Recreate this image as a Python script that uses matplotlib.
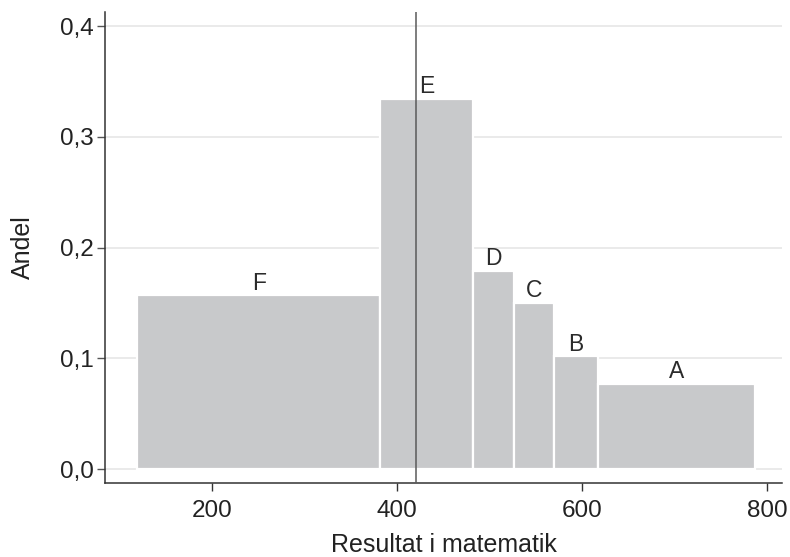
import matplotlib
matplotlib.use("Agg")
import matplotlib.pyplot as plt
from matplotlib.ticker import FuncFormatter

# Score intervals for each grade and the share of students in each
grades = ["F", "E", "D", "C", "B", "A"]
bin_edges = [119, 381.5, 482, 526, 570, 617, 787]
shares = [0.157, 0.334, 0.179, 0.150, 0.102, 0.077]
mean_score = 420

x_ticks = [200, 400, 600, 800]
y_ticks = [0.0, 0.1, 0.2, 0.3, 0.4]

plt.rcParams["font.family"] = ["Liberation Sans", "DejaVu Sans"]

fig = plt.figure(figsize=(7.9, 5.57), dpi=100)
ax = fig.add_axes([0.1329, 0.1329, 0.857, 0.8456])

lefts = bin_edges[:-1]
widths = [b - a for a, b in zip(bin_edges[:-1], bin_edges[1:])]
ax.bar(lefts, shares, width=widths, align="edge", color="#c8c9cb",
       edgecolor="white", linewidth=1.6, zorder=2)

for g, left, w, s in zip(grades, lefts, widths, shares):
    ax.annotate(g, (left + w / 2, s), xytext=(0, 0.5), textcoords="offset points",
                ha="center", va="bottom", fontsize=16.5, color="#2b2b2b", zorder=4)

ax.axvline(mean_score, color="#5a5a5a", linewidth=1.1, zorder=3)

ax.set_xlim(84, 816)
ax.set_ylim(-0.0124, 0.4127)
ax.set_xticks(x_ticks)
ax.set_yticks(y_ticks)
ax.yaxis.set_major_formatter(FuncFormatter(lambda v, p: f"{v:.1f}".replace(".", ",")))

ax.grid(axis="y", color="#e6e6e6", linewidth=1.2, zorder=0)
ax.set_axisbelow(True)

for side in ["top", "right"]:
    ax.spines[side].set_visible(False)
for side in ["left", "bottom"]:
    ax.spines[side].set_color("#333333")
    ax.spines[side].set_linewidth(1.1)

ax.tick_params(axis="x", length=6, width=1, color="#333333", labelsize=17.5,
               labelcolor="#222222", pad=6.5)
ax.tick_params(axis="y", length=6, width=1, color="#555555", labelsize=17.5,
               labelcolor="#222222", pad=2)

ax.set_xlabel("Resultat i matematik", fontsize=18, color="#222222", labelpad=8)
ax.set_ylabel("Andel", fontsize=18, color="#222222", labelpad=18)

fig.savefig("out.png", dpi=100)
